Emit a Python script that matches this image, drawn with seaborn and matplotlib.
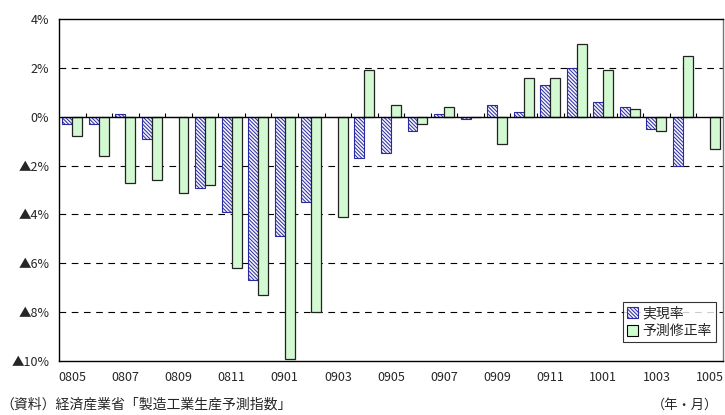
import matplotlib
matplotlib.use('Agg')
import matplotlib.pyplot as plt
from matplotlib.patches import Patch
import numpy as np
import pandas as pd
import seaborn as sns

# 年・月
months = ['0805', '0806', '0807', '0808', '0809', '0810', '0811', '0812',
          '0901', '0902', '0903', '0904', '0905', '0906', '0907', '0908',
          '0909', '0910', '0911', '0912', '1001', '1002', '1003', '1004', '1005']
# 実現率 (%)
jitsugen = [-0.3, -0.3, 0.1, -0.9, 0.0, -2.9, -3.9, -6.7,
            -4.9, -3.5, 0.0, -1.7, -1.5, -0.6, 0.1, -0.1,
            0.5, 0.2, 1.3, 2.0, 0.6, 0.4, -0.5, -2.0, np.nan]
# 予測修正率 (%)
yosoku = [-0.8, -1.6, -2.7, -2.6, -3.1, -2.8, -6.2, -7.3,
          -9.9, -8.0, -4.1, 1.9, 0.5, -0.3, 0.4, 0.0,
          -1.1, 1.6, 1.6, 3.0, 1.9, 0.3, -0.6, 2.5, -1.3]
series = ['実現率', '予測修正率']
yticks = [4, 2, 0, -2, -4, -6, -8, -10]
ytick_labels = ['4%', '2%', '0%', '▲2%', '▲4%', '▲6%', '▲8%', '▲10%']

sns.set_style('white')
plt.rcParams['font.family'] = ['Noto Sans CJK JP', 'DejaVu Sans']
plt.rcParams['hatch.linewidth'] = 0.7

HATCH = '\\' * 9
NAVY = '#2a2aa0'

df = pd.DataFrame({
    'month': months * 2,
    'value': jitsugen + yosoku,
    'series': [series[0]] * len(months) + [series[1]] * len(months),
})

fig = plt.figure(figsize=(7.25, 4.15), dpi=100)
ax = fig.add_axes([0.0814, 0.13, 0.9156, 0.824])

sns.barplot(data=df, x='month', y='value', hue='series', order=months,
            hue_order=series, palette=['#f4f4ff', '#ccffcc'], width=0.75,
            dodge=True, errorbar=None, legend=False, ax=ax, zorder=3)

# 実現率: 斜線
for p in ax.containers[0]:
    p.set_hatch(HATCH)
    p.set_edgecolor(NAVY)
    p.set_linewidth(0.8)
for p in ax.containers[1]:
    p.set_edgecolor('#222222')
    p.set_linewidth(0.9)

ax.set_ylim(-10, 4)
ax.set_xlim(-0.5, len(months) - 0.5)
ax.set_yticks(yticks)
ax.set_yticklabels(ytick_labels)
ax.set_xticks(range(0, len(months), 2))
ax.set_xticklabels(months[::2])
ax.tick_params(axis='both', length=0, labelsize=9, pad=7)
ax.set_xlabel('')
ax.set_ylabel('')

for y in yticks[1:-1]:
    if y != 0:
        ax.axhline(y, color='black', lw=0.8, ls=(0, (6, 5)), zorder=1)
ax.axhline(0, color='black', lw=1.0, zorder=4)
# 0%線上の目盛り
bounds = np.arange(len(months) - 1) + 0.5
ax.vlines(bounds, 0, 0.14, color='black', lw=0.8, zorder=4)

for s in ax.spines.values():
    s.set_color('black')
    s.set_linewidth(1.0)
ax.spines['right'].set_color('#777777')

handles = [Patch(facecolor='#f4f4ff', edgecolor=NAVY, hatch=HATCH, lw=0.8),
           Patch(facecolor='#ccffcc', edgecolor='black', lw=0.8)]
leg = ax.legend(handles, series, loc='lower right', bbox_to_anchor=(0.99, 0.055),
                fontsize=10, frameon=True, fancybox=False, edgecolor='black',
                handlelength=0.8, handleheight=0.8, handletextpad=0.3,
                borderpad=0.3, labelspacing=0.25, borderaxespad=0)
leg.get_frame().set_linewidth(0.8)

fig.text(0.0, 0.015, '（資料）経済産業省「製造工業生産予測指数」', fontsize=10, ha='left')
fig.text(0.99, 0.015, '（年・月）', fontsize=9.5, ha='right')

fig.savefig('out.png', dpi=100)
